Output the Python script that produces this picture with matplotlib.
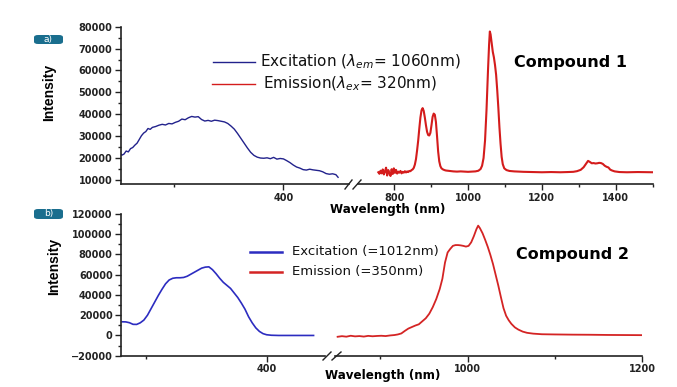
import matplotlib
matplotlib.use("Agg")
import matplotlib.pyplot as plt
from matplotlib.lines import Line2D
from matplotlib.patches import FancyBboxPatch
from matplotlib.ticker import MultipleLocator
from matplotlib import font_manager

# ---------------- data ----------------
exc1_wl = [250, 252, 254, 256, 258, 260, 262, 264, 266, 268,
           270, 272, 274, 276, 278, 280, 283, 286, 289, 292,
           295, 298, 301, 304, 307, 310, 313, 316, 319, 322,
           325, 328, 331, 334, 337, 340, 343, 346, 349, 352,
           355, 358, 361, 364, 367, 370, 373, 376, 379, 382,
           385, 388, 391, 394, 397, 400, 403, 406, 409, 412,
           415, 418, 421, 424, 427, 430, 433, 436, 439, 442,
           445, 448, 450]
exc1_int = [22500, 21300, 21800, 23200, 22800, 24300, 24800, 25900, 26800, 28500,
            30200, 31400, 32100, 33500, 33100, 34000, 34400, 35000, 35400, 35100,
            35800, 35600, 36300, 36800, 37800, 37500, 38400, 39000, 38700, 38900,
            37600, 36900, 37200, 36800, 37300, 37100, 36800, 36500, 35800, 34600,
            33200, 31200, 29000, 26800, 24600, 22600, 21200, 20400, 20000, 19900,
            20100, 19700, 20300, 19500, 19800, 19600, 18800, 17900, 16800, 15900,
            15400, 14700, 14500, 14900, 14600, 14400, 14200, 13700, 12900, 12600,
            12800, 12400, 11200]

em1_wl = [757, 760, 763, 766, 769, 772, 775, 778, 781, 784,
          787, 790, 793, 796, 799, 802, 805, 808, 811, 814,
          817, 820, 823, 826, 829, 832, 835, 838, 841, 844,
          847, 850, 853, 856, 859, 862, 865, 868, 871, 874,
          877, 880, 883, 886, 889, 892, 895, 898, 901, 904,
          907, 910, 913, 916, 919, 922, 925, 928, 932, 936,
          940, 950, 960, 970, 980, 990, 1000, 1010, 1020, 1028,
          1034, 1038, 1042, 1046, 1050, 1054, 1057, 1059, 1061, 1064,
          1067, 1070, 1073, 1076, 1079, 1082, 1085, 1088, 1091, 1094,
          1098, 1104, 1112, 1125, 1150, 1175, 1200, 1225, 1250, 1270,
          1285, 1295, 1305, 1313, 1320, 1325, 1330, 1335, 1340, 1345,
          1350, 1355, 1360, 1365, 1370, 1375, 1380, 1385, 1390, 1397,
          1410, 1430, 1460, 1500]
em1_int = [13500, 12800, 14200, 13000, 14800, 12500, 13900, 15600, 12000, 14500,
           13100, 11800, 14900, 12700, 15300, 13200, 14600, 12900, 13800, 13300,
           14100, 13000, 13700, 13300, 14000, 13400, 13900, 13600, 14100, 14000,
           14500, 14800, 15500, 17000, 19500, 23500, 28000, 33500, 38500, 41800,
           42800, 41500, 38500, 35000, 32000, 30500, 30300, 31500, 35000, 38800,
           40300, 39800, 36500, 30000, 23000, 18500, 16300, 15300, 14800, 14500,
           14300, 14100, 13900, 13800, 13900, 13800, 13700, 13800, 13900, 14200,
           15000, 16500, 20000, 28000, 42000, 60000, 72000, 77800, 76500, 72500,
           68500, 66000, 62500, 58000, 51000, 43000, 34000, 26500, 20500, 17200,
           15300, 14500, 14100, 13900, 13700, 13600, 13500, 13600, 13500, 13600,
           13700, 14000, 14600, 15800, 17500, 18700, 18200, 17600, 17700, 17500,
           17600, 17800, 17700, 17300, 16500, 16000, 15700, 14700, 14300, 13900,
           13600, 13500, 13600, 13500]

exc2_wl = [280, 283, 286, 289, 292, 295, 298, 301, 304, 307,
           310, 313, 316, 319, 322, 325, 328, 331, 334, 337,
           340, 343, 346, 349, 352, 355, 358, 361, 364, 367,
           370, 373, 376, 379, 382, 385, 388, 391, 394, 397,
           400, 404, 410, 420, 430, 439]
exc2_int = [13500, 13400, 12600, 11000, 10900, 12500, 15200, 20000, 26500, 33000,
            39500, 45500, 51000, 54800, 56500, 57000, 57000, 57300, 58500, 60500,
            62500, 64500, 66500, 67500, 67800, 65000, 61000, 56500, 52500, 49500,
            46500, 42000, 37500, 32000, 26000, 18500, 12500, 7500, 4000, 1800,
            700, 200, 0, 0, 0, 0]

em2_wl = [851, 856, 861, 866, 871, 876, 881, 886, 891, 896,
          901, 906, 911, 916, 920, 924, 928, 932, 936, 940,
          944, 948, 952, 956, 960, 964, 968, 971, 974, 977,
          980, 983, 986, 989, 992, 995, 998, 1001, 1004, 1007,
          1010, 1012, 1014, 1017, 1020, 1023, 1026, 1029, 1032, 1035,
          1038, 1041, 1044, 1047, 1050, 1054, 1058, 1063, 1068, 1075,
          1085, 1100, 1120, 1140, 1160, 1180, 1200]
em2_int = [-1300, -700, -1200, -300, -900, -600, -1100, -400, -800, -500,
           -300, -600, 0, 400, 1000, 2000, 4500, 6800, 8300, 9800,
           11000, 14000, 17000, 21500, 28000, 36000, 46000, 56000, 72000, 82000,
           85500, 88500, 89300, 89300, 89000, 88500, 87800, 88500, 92000, 98000,
           105000, 108500, 106000, 101000, 94500, 87500, 79500, 70500, 60000, 49500,
           38000, 27000, 19500, 15000, 11500, 8000, 5800, 3800, 2600, 1800,
           1200, 1000, 800, 700, 500, 400, 300]

legend1 = ["Excitation ($\\lambda_{em}$= 1060nm)", "Emission($\\lambda_{ex}$= 320nm)"]
legend2 = ["Excitation (=1012nm)", "Emission (=350nm)"]
titles = ["Compound 1", "Compound 2"]
badges = ["a)", "b)"]
xlabel = "Wavelength (nm)"
ylabel = "Intensity"

# ---------------- figure ----------------
W, H = 677, 387
fig = plt.figure(figsize=(W / 100, H / 100), dpi=100)
plt.rcParams['font.family'] = ['DejaVu Sans']

def fx(px):
    return px / W

def fy(py):
    return 1 - py / H

def box(x0, y0, x1, y1):
    return [fx(x0), fy(y1), fx(x1) - fx(x0), fy(y0) - fy(y1)]

avail = {f.name for f in font_manager.fontManager.ttflist}
narrow = 'Liberation Sans Narrow' if 'Liberation Sans Narrow' in avail else 'Liberation Sans'

spine_c = '#222222'

def style(ax, left_visible):
    for s in ['top', 'right']:
        ax.spines[s].set_visible(False)
    ax.spines['bottom'].set_color(spine_c)
    ax.spines['bottom'].set_linewidth(1.2)
    ax.spines['left'].set_color(spine_c)
    ax.spines['left'].set_linewidth(1.2)
    ax.xaxis.set_major_locator(MultipleLocator(200))
    ax.xaxis.set_minor_locator(MultipleLocator(100))
    ax.tick_params(axis='both', which='major', direction='out', length=4, width=1,
                   colors=spine_c, labelsize=7, pad=2)
    ax.tick_params(axis='both', which='minor', direction='out', length=2.5, width=1,
                   colors=spine_c)
    for lab in ax.get_xticklabels() + ax.get_yticklabels():
        lab.set_fontweight('bold')
    if not left_visible:
        ax.spines['left'].set_visible(False)
        ax.tick_params(axis='y', which='both', left=False, labelleft=False)
    ax.patch.set_alpha(0)

# ---- panel a ----
ax1l = fig.add_axes(box(120.7, 26.7, 349, 184.3))
ax1r = fig.add_axes(box(358, 26.7, 652.7, 184.3), sharey=ax1l)
ax1l.plot(exc1_wl, exc1_int, color='#22228c', lw=1.0)
ax1r.plot(em1_wl, em1_int, color='#d41c1c', lw=1.5)
ax1l.set_xlim(251, 460)
ax1r.set_xlim(702, 1500)
ax1l.set_ylim(8000, 80000)
ax1l.yaxis.set_major_locator(MultipleLocator(10000))
ax1l.yaxis.set_minor_locator(MultipleLocator(5000))
style(ax1l, True)
style(ax1r, False)

# ---- panel b ----
ax2l = fig.add_axes(box(121, 214, 325, 355.7))
ax2r = fig.add_axes(box(335, 214, 642.3, 355.7), sharey=ax2l)
ax2l.plot(exc2_wl, exc2_int, color='#2c2cc0', lw=1.2)
ax2r.plot(em2_wl, em2_int, color='#d42424', lw=1.3)
ax2l.set_xlim(279, 448.5)
ax2r.set_xlim(848, 1200)
ax2l.set_ylim(-20000, 120000)
ax2l.yaxis.set_major_locator(MultipleLocator(20000))
ax2l.yaxis.set_minor_locator(MultipleLocator(10000))
style(ax2l, True)
style(ax2r, False)

# ---- break marks ----
def brk(x0, y0, x1, y1):
    fig.add_artist(Line2D([fx(x0), fx(x1)], [fy(y0), fy(y1)], color=spine_c, lw=1.0))

brk(345, 189, 352, 180)
brk(353, 189, 361, 180)
brk(323, 360, 331, 352)
brk(332, 360, 341, 352)

# ---- axis labels ----
fig.text(fx(388), fy(209), xlabel, ha='center', va='center', fontsize=8.6, fontweight='bold')
fig.text(fx(383), fy(375), xlabel, ha='center', va='center', fontsize=8.6, fontweight='bold')
fig.text(fx(49), fy(92), ylabel, ha='center', va='center', rotation=90, fontsize=10,
         fontweight='bold', family=[narrow, 'DejaVu Sans'])
fig.text(fx(54), fy(266), ylabel, ha='center', va='center', rotation=90, fontsize=10,
         fontweight='bold', family=[narrow, 'DejaVu Sans'])

# ---- titles ----
fig.text(fx(571), fy(62), titles[0], ha='center', va='center', fontsize=11.5, fontweight='bold')
fig.text(fx(573), fy(255), titles[1], ha='center', va='center', fontsize=11.5, fontweight='bold')

# ---- legends ----
def leg_row(x0, x1, y, color, lw, tx, label, fs):
    fig.add_artist(Line2D([fx(x0), fx(x1)], [fy(y), fy(y)], color=color, lw=lw))
    fig.text(fx(tx), fy(y), label, ha='left', va='center', fontsize=fs, color='#111111')

leg_row(213, 255, 62, '#22228c', 1.0, 260, legend1[0], 11)
leg_row(212, 255, 84, '#d41c1c', 1.0, 263, legend1[1], 11)
leg_row(250, 282, 252, '#2c2cc0', 1.8, 292, legend2[0], 9.5)
leg_row(250, 282, 272, '#d42424', 1.8, 292, legend2[1], 9.5)

# ---- badges ----
for lab, (bx0, by0, bx1, by1) in zip(badges, [(34, 35, 63, 44), (34, 209, 63, 219)]):
    p = FancyBboxPatch((fx(bx0), fy(by1)), fx(bx1) - fx(bx0), fy(by0) - fy(by1),
                       boxstyle='round,pad=0,rounding_size=0.006',
                       transform=fig.transFigure, facecolor='#1a6e8e', edgecolor='none')
    fig.add_artist(p)
    fig.text(fx((bx0 + bx1) / 2), fy((by0 + by1) / 2), lab, ha='center', va='center',
             fontsize=6.5, color='white')

fig.savefig('out.png', dpi=100)
